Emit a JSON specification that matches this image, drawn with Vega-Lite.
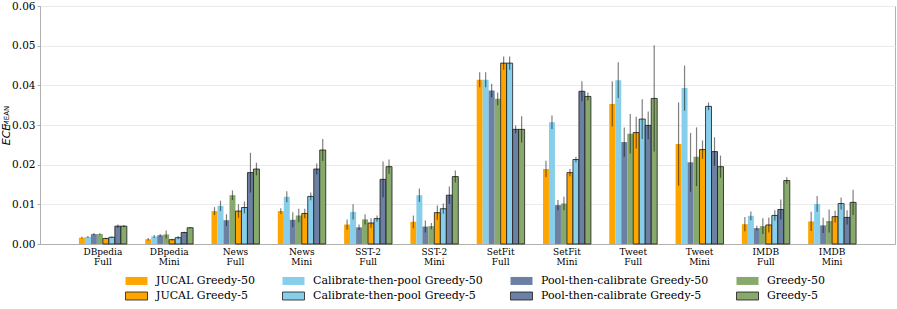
{
  "$schema": "https://vega.github.io/schema/vega-lite/v6.json",
  "width": 855,
  "height": 238,
  "autosize": {"type": "none"},
  "padding": {"left": 40, "top": 6, "right": 2, "bottom": 65},
  "background": "white",
  "title": {"text": "MEAN", "orient": "left", "anchor": "middle", "font": "DejaVu Sans", "fontSize": 7, "fontWeight": "normal", "color": "black", "offset": -15.7, "baseline": "alphabetic", "dx": 9},
  "config": {
    "view": {"stroke": "#b0b0b0", "strokeWidth": 1},
    "font": "DejaVu Serif"
  },
  "data": {"values": [
    {"d":"DBpedia Full","s":"JUCAL Greedy-50","v":0.0016,"lo":0.0014,"hi":0.0018},
    {"d":"DBpedia Full","s":"Calibrate-then-pool Greedy-50","v":0.0018,"lo":0.0016,"hi":0.002},
    {"d":"DBpedia Full","s":"Pool-then-calibrate Greedy-50","v":0.0025,"lo":0.0022,"hi":0.0028},
    {"d":"DBpedia Full","s":"Greedy-50","v":0.0025,"lo":0.0023,"hi":0.0027},
    {"d":"DBpedia Full","s":"JUCAL Greedy-5","v":0.0014,"lo":0.0012,"hi":0.0016},
    {"d":"DBpedia Full","s":"Calibrate-then-pool Greedy-5","v":0.0017,"lo":0.0015,"hi":0.0019},
    {"d":"DBpedia Full","s":"Pool-then-calibrate Greedy-5","v":0.0045,"lo":0.0041,"hi":0.0049},
    {"d":"DBpedia Full","s":"Greedy-5","v":0.0045,"lo":0.0042,"hi":0.0048},
    {"d":"DBpedia Mini","s":"JUCAL Greedy-50","v":0.0012,"lo":0.0009,"hi":0.0015},
    {"d":"DBpedia Mini","s":"Calibrate-then-pool Greedy-50","v":0.0019,"lo":0.0015,"hi":0.0023},
    {"d":"DBpedia Mini","s":"Pool-then-calibrate Greedy-50","v":0.0022,"lo":0.0019,"hi":0.0025},
    {"d":"DBpedia Mini","s":"Greedy-50","v":0.0024,"lo":0.0014,"hi":0.0034},
    {"d":"DBpedia Mini","s":"JUCAL Greedy-5","v":0.0011,"lo":0.0009,"hi":0.0013},
    {"d":"DBpedia Mini","s":"Calibrate-then-pool Greedy-5","v":0.0016,"lo":0.0012,"hi":0.002},
    {"d":"DBpedia Mini","s":"Pool-then-calibrate Greedy-5","v":0.0029,"lo":0.0027,"hi":0.0031},
    {"d":"DBpedia Mini","s":"Greedy-5","v":0.0041,"lo":0.004,"hi":0.0042},
    {"d":"News Full","s":"JUCAL Greedy-50","v":0.0083,"lo":0.0073,"hi":0.0093},
    {"d":"News Full","s":"Calibrate-then-pool Greedy-50","v":0.0096,"lo":0.0083,"hi":0.0109},
    {"d":"News Full","s":"Pool-then-calibrate Greedy-50","v":0.006,"lo":0.0045,"hi":0.0075},
    {"d":"News Full","s":"Greedy-50","v":0.0123,"lo":0.0111,"hi":0.0135},
    {"d":"News Full","s":"JUCAL Greedy-5","v":0.0083,"lo":0.0066,"hi":0.01},
    {"d":"News Full","s":"Calibrate-then-pool Greedy-5","v":0.0092,"lo":0.0077,"hi":0.0107},
    {"d":"News Full","s":"Pool-then-calibrate Greedy-5","v":0.018,"lo":0.013,"hi":0.023},
    {"d":"News Full","s":"Greedy-5","v":0.0189,"lo":0.0173,"hi":0.0205},
    {"d":"News Mini","s":"JUCAL Greedy-50","v":0.0083,"lo":0.0076,"hi":0.009},
    {"d":"News Mini","s":"Calibrate-then-pool Greedy-50","v":0.0119,"lo":0.0105,"hi":0.0133},
    {"d":"News Mini","s":"Pool-then-calibrate Greedy-50","v":0.0061,"lo":0.0042,"hi":0.008},
    {"d":"News Mini","s":"Greedy-50","v":0.0072,"lo":0.0055,"hi":0.0089},
    {"d":"News Mini","s":"JUCAL Greedy-5","v":0.0077,"lo":0.0065,"hi":0.0089},
    {"d":"News Mini","s":"Calibrate-then-pool Greedy-5","v":0.012,"lo":0.011,"hi":0.013},
    {"d":"News Mini","s":"Pool-then-calibrate Greedy-5","v":0.0189,"lo":0.0175,"hi":0.0203},
    {"d":"News Mini","s":"Greedy-5","v":0.0237,"lo":0.0209,"hi":0.0265},
    {"d":"SST-2 Full","s":"JUCAL Greedy-50","v":0.0049,"lo":0.0036,"hi":0.0062},
    {"d":"SST-2 Full","s":"Calibrate-then-pool Greedy-50","v":0.0081,"lo":0.0062,"hi":0.01},
    {"d":"SST-2 Full","s":"Pool-then-calibrate Greedy-50","v":0.0042,"lo":0.0035,"hi":0.0049},
    {"d":"SST-2 Full","s":"Greedy-50","v":0.0062,"lo":0.0049,"hi":0.0075},
    {"d":"SST-2 Full","s":"JUCAL Greedy-5","v":0.0053,"lo":0.0041,"hi":0.0065},
    {"d":"SST-2 Full","s":"Calibrate-then-pool Greedy-5","v":0.0064,"lo":0.0056,"hi":0.0072},
    {"d":"SST-2 Full","s":"Pool-then-calibrate Greedy-5","v":0.0163,"lo":0.0118,"hi":0.0208},
    {"d":"SST-2 Full","s":"Greedy-5","v":0.0195,"lo":0.0177,"hi":0.0213},
    {"d":"SST-2 Mini","s":"JUCAL Greedy-50","v":0.0056,"lo":0.004,"hi":0.0072},
    {"d":"SST-2 Mini","s":"Calibrate-then-pool Greedy-50","v":0.0123,"lo":0.0106,"hi":0.014},
    {"d":"SST-2 Mini","s":"Pool-then-calibrate Greedy-50","v":0.0044,"lo":0.0029,"hi":0.0059},
    {"d":"SST-2 Mini","s":"Greedy-50","v":0.0045,"lo":0.0037,"hi":0.0053},
    {"d":"SST-2 Mini","s":"JUCAL Greedy-5","v":0.0079,"lo":0.0061,"hi":0.0097},
    {"d":"SST-2 Mini","s":"Calibrate-then-pool Greedy-5","v":0.0089,"lo":0.0076,"hi":0.0102},
    {"d":"SST-2 Mini","s":"Pool-then-calibrate Greedy-5","v":0.0123,"lo":0.0101,"hi":0.0145},
    {"d":"SST-2 Mini","s":"Greedy-5","v":0.017,"lo":0.0155,"hi":0.0185},
    {"d":"SetFit Full","s":"JUCAL Greedy-50","v":0.0414,"lo":0.0395,"hi":0.0433},
    {"d":"SetFit Full","s":"Calibrate-then-pool Greedy-50","v":0.0414,"lo":0.0395,"hi":0.0433},
    {"d":"SetFit Full","s":"Pool-then-calibrate Greedy-50","v":0.0387,"lo":0.037,"hi":0.0404},
    {"d":"SetFit Full","s":"Greedy-50","v":0.0366,"lo":0.035,"hi":0.0382},
    {"d":"SetFit Full","s":"JUCAL Greedy-5","v":0.0456,"lo":0.0439,"hi":0.0473},
    {"d":"SetFit Full","s":"Calibrate-then-pool Greedy-5","v":0.0456,"lo":0.0439,"hi":0.0473},
    {"d":"SetFit Full","s":"Pool-then-calibrate Greedy-5","v":0.0289,"lo":0.0279,"hi":0.0299},
    {"d":"SetFit Full","s":"Greedy-5","v":0.0289,"lo":0.0256,"hi":0.0322},
    {"d":"SetFit Mini","s":"JUCAL Greedy-50","v":0.0189,"lo":0.0168,"hi":0.021},
    {"d":"SetFit Mini","s":"Calibrate-then-pool Greedy-50","v":0.0307,"lo":0.029,"hi":0.0324},
    {"d":"SetFit Mini","s":"Pool-then-calibrate Greedy-50","v":0.0098,"lo":0.0085,"hi":0.0111},
    {"d":"SetFit Mini","s":"Greedy-50","v":0.0102,"lo":0.0085,"hi":0.0119},
    {"d":"SetFit Mini","s":"JUCAL Greedy-5","v":0.018,"lo":0.0171,"hi":0.0189},
    {"d":"SetFit Mini","s":"Calibrate-then-pool Greedy-5","v":0.0213,"lo":0.0206,"hi":0.022},
    {"d":"SetFit Mini","s":"Pool-then-calibrate Greedy-5","v":0.0385,"lo":0.036,"hi":0.041},
    {"d":"SetFit Mini","s":"Greedy-5","v":0.0372,"lo":0.0362,"hi":0.0382},
    {"d":"Tweet Full","s":"JUCAL Greedy-50","v":0.0353,"lo":0.0296,"hi":0.041},
    {"d":"Tweet Full","s":"Calibrate-then-pool Greedy-50","v":0.0413,"lo":0.0368,"hi":0.0458},
    {"d":"Tweet Full","s":"Pool-then-calibrate Greedy-50","v":0.0257,"lo":0.022,"hi":0.0294},
    {"d":"Tweet Full","s":"Greedy-50","v":0.0278,"lo":0.0228,"hi":0.0328},
    {"d":"Tweet Full","s":"JUCAL Greedy-5","v":0.0281,"lo":0.0241,"hi":0.0321},
    {"d":"Tweet Full","s":"Calibrate-then-pool Greedy-5","v":0.0315,"lo":0.0265,"hi":0.0365},
    {"d":"Tweet Full","s":"Pool-then-calibrate Greedy-5","v":0.0299,"lo":0.0264,"hi":0.0334},
    {"d":"Tweet Full","s":"Greedy-5","v":0.0367,"lo":0.0233,"hi":0.0501},
    {"d":"Tweet Mini","s":"JUCAL Greedy-50","v":0.0252,"lo":0.0147,"hi":0.0357},
    {"d":"Tweet Mini","s":"Calibrate-then-pool Greedy-50","v":0.0393,"lo":0.0336,"hi":0.045},
    {"d":"Tweet Mini","s":"Pool-then-calibrate Greedy-50","v":0.0206,"lo":0.0132,"hi":0.028},
    {"d":"Tweet Mini","s":"Greedy-50","v":0.022,"lo":0.0146,"hi":0.0294},
    {"d":"Tweet Mini","s":"JUCAL Greedy-5","v":0.0238,"lo":0.0215,"hi":0.0261},
    {"d":"Tweet Mini","s":"Calibrate-then-pool Greedy-5","v":0.0347,"lo":0.0337,"hi":0.0357},
    {"d":"Tweet Mini","s":"Pool-then-calibrate Greedy-5","v":0.0233,"lo":0.0197,"hi":0.0269},
    {"d":"Tweet Mini","s":"Greedy-5","v":0.0195,"lo":0.0167,"hi":0.0223},
    {"d":"IMDB Full","s":"JUCAL Greedy-50","v":0.005,"lo":0.0032,"hi":0.0068},
    {"d":"IMDB Full","s":"Calibrate-then-pool Greedy-50","v":0.0071,"lo":0.006,"hi":0.0082},
    {"d":"IMDB Full","s":"Pool-then-calibrate Greedy-50","v":0.004,"lo":0.0034,"hi":0.0046},
    {"d":"IMDB Full","s":"Greedy-50","v":0.0045,"lo":0.0025,"hi":0.0065},
    {"d":"IMDB Full","s":"JUCAL Greedy-5","v":0.0048,"lo":0.0029,"hi":0.0067},
    {"d":"IMDB Full","s":"Calibrate-then-pool Greedy-5","v":0.0072,"lo":0.0059,"hi":0.0085},
    {"d":"IMDB Full","s":"Pool-then-calibrate Greedy-5","v":0.0087,"lo":0.0062,"hi":0.0112},
    {"d":"IMDB Full","s":"Greedy-5","v":0.016,"lo":0.0152,"hi":0.0168},
    {"d":"IMDB Mini","s":"JUCAL Greedy-50","v":0.0057,"lo":0.0033,"hi":0.0081},
    {"d":"IMDB Mini","s":"Calibrate-then-pool Greedy-50","v":0.0101,"lo":0.0081,"hi":0.0121},
    {"d":"IMDB Mini","s":"Pool-then-calibrate Greedy-50","v":0.0047,"lo":0.0028,"hi":0.0066},
    {"d":"IMDB Mini","s":"Greedy-50","v":0.0058,"lo":0.0029,"hi":0.0087},
    {"d":"IMDB Mini","s":"JUCAL Greedy-5","v":0.0069,"lo":0.0054,"hi":0.0084},
    {"d":"IMDB Mini","s":"Calibrate-then-pool Greedy-5","v":0.0102,"lo":0.0087,"hi":0.0117},
    {"d":"IMDB Mini","s":"Pool-then-calibrate Greedy-5","v":0.0067,"lo":0.0049,"hi":0.0085},
    {"d":"IMDB Mini","s":"Greedy-5","v":0.0105,"lo":0.0073,"hi":0.0137}
  ]},
  "encoding": {
    "x": {
      "field": "d", "type": "nominal", "sort": null, "title": null,
      "scale": {"paddingInner": 0.277, "paddingOuter": 0.587},
      "axis": {"labelAngle": 0, "labelExpr": "split(datum.label, ' ')", "labelFont": "DejaVu Serif", "labelFontSize": 9, "labelColor": "black", "labelLineHeight": 10, "labelPadding": 3, "ticks": false, "domainColor": "#b0b0b0", "domainWidth": 1}
    },
    "xOffset": {
      "field": "s", "type": "nominal", "sort": null,
      "scale": {"domain": ["JUCAL Greedy-50", "Calibrate-then-pool Greedy-50", "Pool-then-calibrate Greedy-50", "Greedy-50", "JUCAL Greedy-5", "Calibrate-then-pool Greedy-5", "Pool-then-calibrate Greedy-5", "Greedy-5"], "paddingInner": 0, "paddingOuter": 0}
    }
  },
  "layer": [
    {
      "mark": {"type": "bar", "strokeWidth": 0.8},
      "encoding": {
        "y": {
          "field": "v", "type": "quantitative",
          "scale": {"domain": [0, 0.06], "nice": false},
          "axis": {"title": "ECE", "titleFont": "DejaVu Sans", "titleFontStyle": "italic", "titleFontWeight": "normal", "titleFontSize": 11, "titleColor": "black", "titleX": -30.5, "titleY": 128, "titleAngle": -90, "titleAlign": "center", "titleBaseline": "alphabetic",
                   "values": [0, 0.01, 0.02, 0.03, 0.04, 0.05, 0.06], "format": ".2f", "labelOverlap": false, "labelFont": "DejaVu Serif", "labelFontSize": 10.5, "labelColor": "black", "labelPadding": 2, "tickSize": 3, "tickColor": "#b0b0b0", "domainColor": "#b0b0b0", "gridColor": "#ebebeb", "gridWidth": 1}
        },
        "fill": {
          "field": "s", "type": "nominal", "sort": null,
          "scale": {"domain": ["JUCAL Greedy-50", "Calibrate-then-pool Greedy-50", "Pool-then-calibrate Greedy-50", "Greedy-50", "JUCAL Greedy-5", "Calibrate-then-pool Greedy-5", "Pool-then-calibrate Greedy-5", "Greedy-5"],
                    "range": ["#FFA500", "#87CEEB", "#6B80A3", "#87A96B", "#FFA500", "#87CEEB", "#6B80A3", "#87A96B"]},
          "legend": {"title": null, "orient": "none", "legendX": 88, "legendY": 266, "direction": "horizontal", "columns": 4, "columnPadding": 25, "rowPadding": 0.5, "symbolType": "M-1.375,-0.5H1.375V0.5H-1.375Z", "symbolSize": 256, "symbolStrokeWidth": 0.8, "labelFont": "DejaVu Serif", "labelFontSize": 11, "labelColor": "black", "labelOffset": 11, "labelLimit": 400}
        },
        "stroke": {
          "field": "s", "type": "nominal", "sort": null,
          "scale": {"domain": ["JUCAL Greedy-50", "Calibrate-then-pool Greedy-50", "Pool-then-calibrate Greedy-50", "Greedy-50", "JUCAL Greedy-5", "Calibrate-then-pool Greedy-5", "Pool-then-calibrate Greedy-5", "Greedy-5"],
                    "range": ["transparent", "transparent", "transparent", "transparent", "#1a1a1a", "#1a1a1a", "#1a1a1a", "#1a1a1a"]}
        }
      }
    },
    {
      "mark": {"type": "rule", "color": "black", "opacity": 0.5, "strokeWidth": 1.2},
      "encoding": {
        "y": {
          "field": "lo", "type": "quantitative",
          "scale": {"domain": [0, 0.06], "nice": false},
          "axis": {"title": "ECE", "titleFont": "DejaVu Sans", "titleFontStyle": "italic", "titleFontWeight": "normal", "titleFontSize": 11, "titleColor": "black", "titleX": -30.5, "titleY": 128, "titleAngle": -90, "titleAlign": "center", "titleBaseline": "alphabetic",
                   "values": [0, 0.01, 0.02, 0.03, 0.04, 0.05, 0.06], "format": ".2f", "labelOverlap": false, "labelFont": "DejaVu Serif", "labelFontSize": 10.5, "labelColor": "black", "labelPadding": 2, "tickSize": 3, "tickColor": "#b0b0b0", "domainColor": "#b0b0b0", "gridColor": "#ebebeb", "gridWidth": 1}
        },
        "y2": {"field": "hi"}
      }
    }
  ]
}
